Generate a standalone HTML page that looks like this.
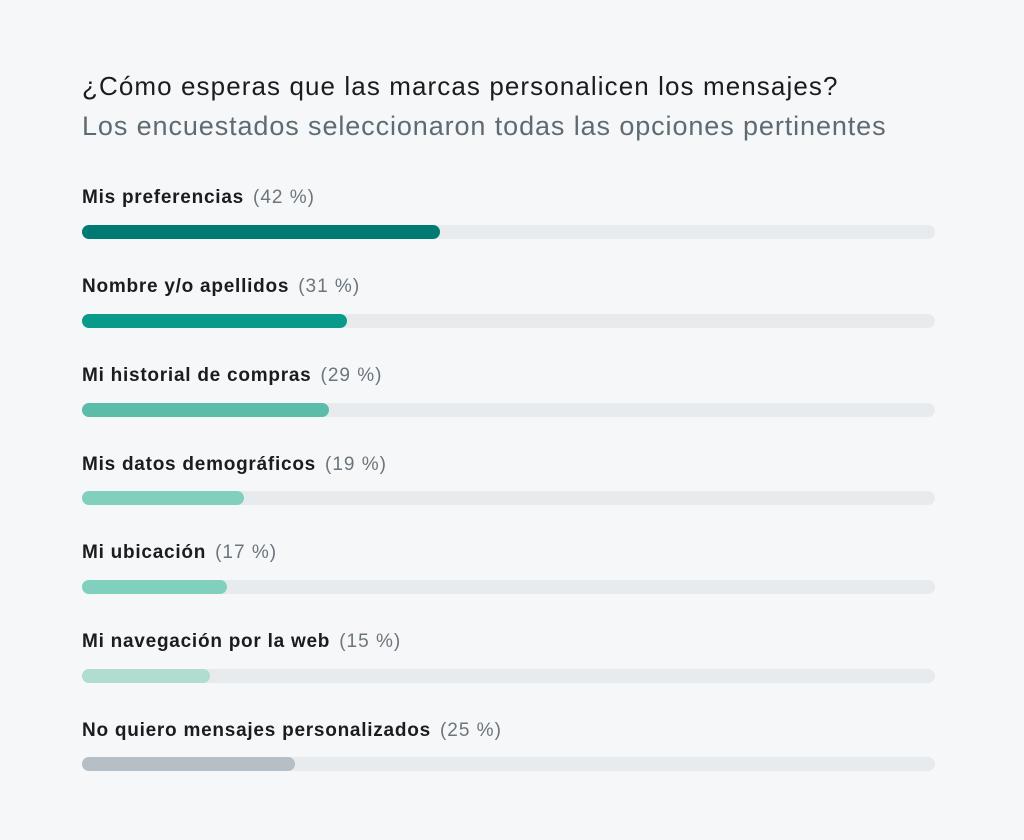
<!DOCTYPE html>
<html><head><meta charset="utf-8"><style>
body{margin:0;width:1024px;height:840px;background:#f6f7f9;font-family:"Liberation Sans",sans-serif;position:relative;overflow:hidden}
.t{position:absolute;left:82px;font-size:26px;color:#1a1d20;top:71px;letter-spacing:1.09px;white-space:nowrap}
.s{position:absolute;left:82px;font-size:27px;color:#5f6b72;top:111px;letter-spacing:0.9px;white-space:nowrap}
.l{position:absolute;left:82px;font-size:19px;font-weight:bold;color:#1a1d20;letter-spacing:0.75px;white-space:nowrap}
.l span{font-weight:normal;color:#6b757c;letter-spacing:1px;margin-left:3px}
.tr{position:absolute;left:82px;width:853px;height:14px;border-radius:7px;background:#e8ebee}
.b{height:14px;border-radius:7px}
</style></head><body>
<div class="t">¿Cómo esperas que las marcas personalicen los mensajes?</div>
<div class="s">Los encuestados seleccionaron todas las opciones pertinentes</div>

<div class="l" style="top:187px">Mis preferencias <span>(42 %)</span></div>
<div class="tr" style="top:225px"><div class="b" style="width:358px;background:#007a73"></div></div>

<div class="l" style="top:276px">Nombre y/o apellidos <span>(31 %)</span></div>
<div class="tr" style="top:314px"><div class="b" style="width:265px;background:#0a9a8a"></div></div>

<div class="l" style="top:365px">Mi historial de compras <span>(29 %)</span></div>
<div class="tr" style="top:403px"><div class="b" style="width:247px;background:#5bbcaa"></div></div>

<div class="l" style="top:454px">Mis datos demográficos <span>(19 %)</span></div>
<div class="tr" style="top:491px"><div class="b" style="width:162px;background:#80d0bd"></div></div>

<div class="l" style="top:542px">Mi ubicación <span>(17 %)</span></div>
<div class="tr" style="top:580px"><div class="b" style="width:145px;background:#80d0bd"></div></div>

<div class="l" style="top:631px">Mi navegación por la web <span>(15 %)</span></div>
<div class="tr" style="top:669px"><div class="b" style="width:128px;background:#b0ddcf"></div></div>

<div class="l" style="top:720px">No quiero mensajes personalizados <span>(25 %)</span></div>
<div class="tr" style="top:757px"><div class="b" style="width:213px;background:#b6bfc6"></div></div>
</body></html>
